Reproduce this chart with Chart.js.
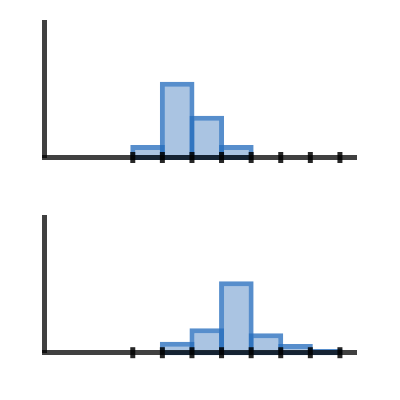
<!DOCTYPE html>
<html><head><meta charset="utf-8">
<script src="https://cdn.jsdelivr.net/npm/chart.js@4/dist/chart.umd.min.js"></script>
<style>
html,body{margin:0;padding:0;background:#fff;width:400px;height:400px;overflow:hidden}
canvas{display:block;position:absolute;left:0}
</style></head><body>
<canvas id="c1" width="400" height="200" style="top:0"></canvas>
<canvas id="c2" width="400" height="200" style="top:200px"></canvas>
<script>
// bin centres (in bin-index units) and bar heights for each panel
const binCenters1 = [3.5, 4.5, 5.5, 6.5];
const values1 = [9.2, 55.9, 30.8, 9.2];
const binCenters2 = [4.5, 5.5, 6.5, 7.5, 8.5, 9.5];
const values2 = [8.1, 18.0, 52.8, 14.3, 6.4, 2.7];
// bin edges that carry a tick marker on the x axis
const tickEdges = [3, 4, 5, 6, 7, 8, 9, 10];

const AXIS = 'rgba(0,0,0,0.75)';

function makeChart(id, centers, values, padTop, padBottom) {
  return new Chart(document.getElementById(id), {
    type: 'bar',
    data: {
      datasets: [
        {
          type: 'scatter',
          data: tickEdges.map(x => ({x: x, y: 0})),
          pointStyle: 'line',
          pointRotation: 90,
          pointRadius: 5.5,
          pointHoverRadius: 5.5,
          pointBorderWidth: 5,
          pointBorderColor: 'rgba(0,0,0,0.85)',
          pointBackgroundColor: 'rgba(0,0,0,0.85)',
          clip: false,
          order: 0
        },
        {
          type: 'bar',
          data: centers.map((x, i) => ({x: x, y: values[i]})),
          backgroundColor: 'rgba(31,100,180,0.38)',
          borderColor: 'rgba(40,110,190,0.78)',
          borderWidth: 5,
          borderSkipped: false,
          barPercentage: 1.169,
          categoryPercentage: 1,
          base: -1.85,
          clip: false,
          order: 1
        }
      ]
    },
    options: {
      responsive: false,
      animation: false,
      devicePixelRatio: 1,
      events: [],
      layout: {padding: {left: 44, right: 43.8, top: padTop, bottom: padBottom}},
      plugins: {legend: {display: false}, tooltip: {enabled: false}},
      scales: {
        x: {
          type: 'linear', min: 0, max: 10.55, offset: false,
          ticks: {display: false, stepSize: 100},
          grid: {display: false, drawTicks: false, offset: false},
          border: {display: true, color: AXIS, width: 5, z: 1}
        },
        y: {
          type: 'linear', min: 0, max: 100,
          ticks: {display: false},
          grid: {display: false, drawTicks: false},
          border: {display: true, color: AXIS, width: 5, z: 1}
        }
      }
    }
  });
}

makeChart('c1', binCenters1, values1, 22, 42.5);
makeChart('c2', binCenters2, values2, 17.5, 47.3);
</script>
</body></html>
